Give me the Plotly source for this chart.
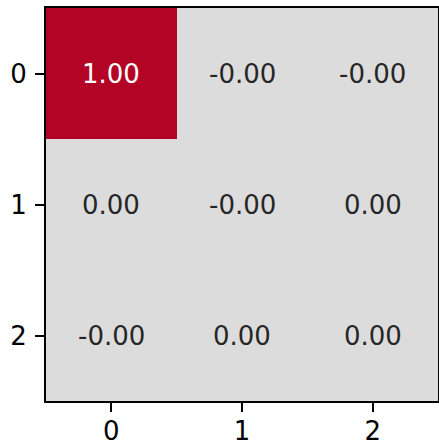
import plotly.graph_objects as go

x_labels = [0, 1, 2]
y_labels = [0, 1, 2]
values = [
    [1.00, -0.001, -0.001],
    [0.001, -0.001, 0.001],
    [-0.001, 0.001, 0.001],
]
text = [[f"{v:.2f}" for v in row] for row in values]
text_colors = [["white" if abs(v) > 0.5 else "#262626" for v in row] for row in values]

fig = go.Figure()
fig.add_trace(go.Heatmap(
    z=values, x=x_labels, y=y_labels,
    zmin=-1, zmax=1,
    colorscale=[[0, "#3b4cc0"], [0.5, "#dddcdc"], [1, "#b40426"]],
    showscale=False, hoverinfo="skip",
))
for i, row in enumerate(values):
    for j, v in enumerate(row):
        fig.add_annotation(x=x_labels[j], y=y_labels[i], text=text[i][j], showarrow=False,
                           font=dict(family="DejaVu Sans", size=26, color=text_colors[i][j]))

axis_common = dict(
    showline=True, linecolor="black", linewidth=2, mirror=True,
    ticks="outside", ticklen=9, tickwidth=2, tickcolor="black",
    showgrid=False, zeroline=False, automargin=False,
    tickfont=dict(family="DejaVu Sans", size=26, color="black"),
)
fig.update_xaxes(range=[-0.5, 2.5], tickvals=x_labels, ticklabelstandoff=-3, **axis_common)
fig.update_yaxes(range=[2.5, -0.5], tickvals=y_labels, ticklabelstandoff=3, **axis_common)
fig.update_layout(
    width=439, height=445,
    margin=dict(l=46, r=1, t=8, b=44),
    paper_bgcolor="white", plot_bgcolor="white",
)
fig.write_html(
    "out.html",
    config={"responsive": False, "displayModeBar": False},
    post_script="document.body.style.margin='0';document.body.style.overflow='hidden';",
)
